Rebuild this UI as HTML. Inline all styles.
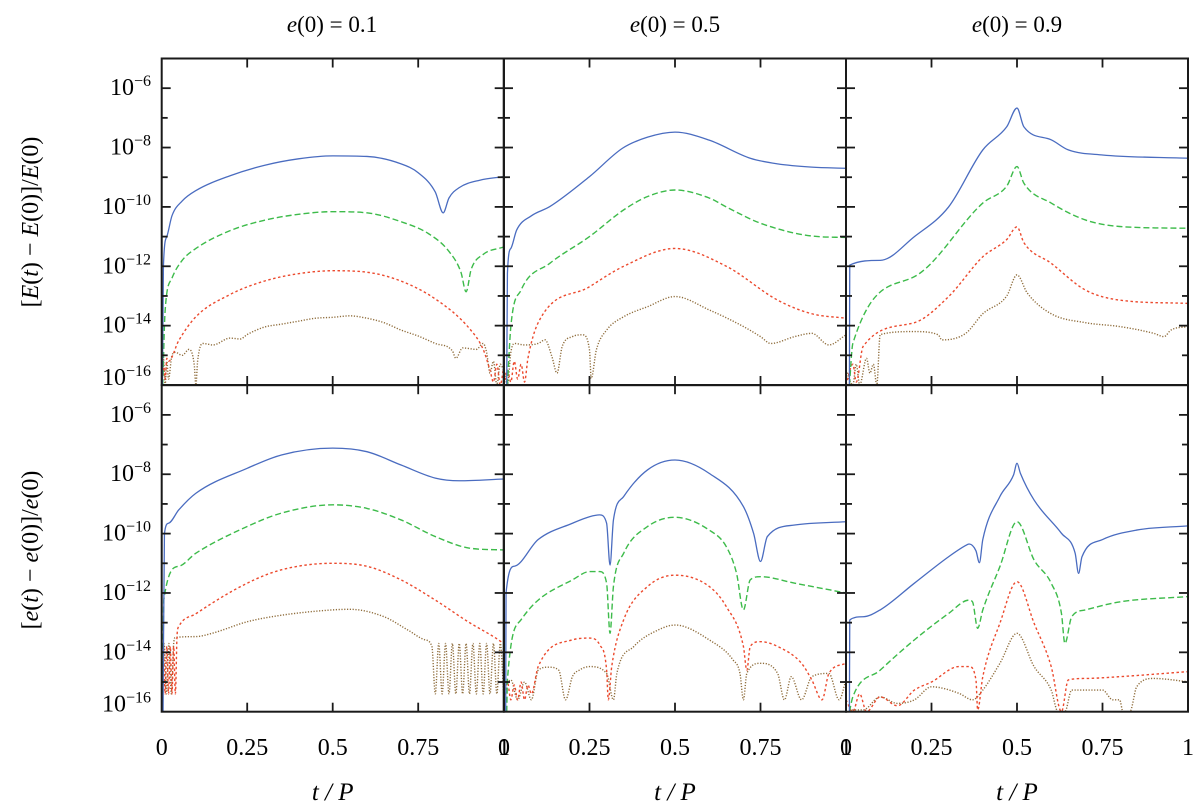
<!DOCTYPE html>
<html><head><meta charset="utf-8"><style>
html,body{margin:0;padding:0;background:#fff}
svg{display:block}
text{font-family:"Liberation Serif",serif;fill:#000}
</style></head><body>
<svg id="chart" width="1200" height="806" viewBox="0 0 1200 806" xmlns="http://www.w3.org/2000/svg">
<g>
<text x="332" y="32" font-size="23" text-anchor="middle"><tspan font-style="italic">e</tspan>(0) = 0.1</text>
<text x="675" y="32" font-size="23" text-anchor="middle"><tspan font-style="italic">e</tspan>(0) = 0.5</text>
<text x="1017" y="32" font-size="23" text-anchor="middle"><tspan font-style="italic">e</tspan>(0) = 0.9</text>
</g>
<text font-size="24" text-anchor="middle" transform="translate(38,222) rotate(-90)">[<tspan font-style="italic">E</tspan>(<tspan font-style="italic">t</tspan>) − <tspan font-style="italic">E</tspan>(0)]/<tspan font-style="italic">E</tspan>(0)</text>
<text font-size="24" text-anchor="middle" transform="translate(38,550) rotate(-90)">[<tspan font-style="italic">e</tspan>(<tspan font-style="italic">t</tspan>) − <tspan font-style="italic">e</tspan>(0)]/<tspan font-style="italic">e</tspan>(0)</text>
<g id="plots"></g>
<g id="axes"></g>
</svg>
<script>
// ---- data (log10 of relative error) ----
// Panel 1: top, e(0)=0.1
const p1BlueT=[0,0.002,0.005,0.015,0.03,0.06,0.1,0.2,0.3,0.4,0.5,0.6,0.7,0.75,0.8,0.823,0.84,0.87,0.93,1];
const p1BlueV=[-16,-16,-12,-11,-10.3,-9.8,-9.45,-8.95,-8.6,-8.38,-8.28,-8.3,-8.55,-8.85,-9.5,-10.2,-9.7,-9.35,-9.1,-8.98];
const p1GreenT=[0.003,0.01,0.03,0.06,0.1,0.2,0.3,0.4,0.5,0.6,0.7,0.78,0.84,0.875,0.89,0.905,0.94,1];
const p1GreenV=[-16,-13.5,-12.4,-11.8,-11.4,-10.8,-10.45,-10.25,-10.16,-10.2,-10.5,-10.9,-11.5,-12.2,-12.86,-12.1,-11.6,-11.35];
const p1RedT=[0,0.005,0.01,0.015,0.02,0.05,0.1,0.2,0.3,0.4,0.5,0.6,0.7,0.8,0.9,0.94,0.96,0.97,0.98,0.99,1];
const p1RedV=[-16,-15.3,-15.8,-15.1,-15.2,-14.5,-13.7,-12.95,-12.5,-12.25,-12.15,-12.2,-12.5,-13.1,-14.1,-14.8,-15.5,-15.9,-15.3,-16,-15.4];
const p1BrownT=[0,0.005,0.01,0.015,0.02,0.03,0.04,0.06,0.08,0.095,0.1,0.105,0.12,0.15,0.2,0.23,0.25,0.3,0.35,0.4,0.45,0.5,0.55,0.6,0.65,0.7,0.75,0.8,0.85,0.86,0.88,0.92,0.94,0.95,0.96,0.97,0.98,0.99,1];
const p1BrownV=[-16,-15.1,-16,-15.2,-15.8,-15.0,-14.9,-15.0,-14.8,-15.3,-16,-15.2,-14.6,-14.65,-14.42,-14.45,-14.3,-14.05,-13.95,-13.85,-13.75,-13.72,-13.67,-13.75,-13.9,-14.15,-14.35,-14.6,-14.85,-15.1,-14.75,-14.8,-14.6,-14.9,-15.6,-15.2,-16,-15.3,-15.5];
// Panel 2: top, e(0)=0.5
const p2BlueT=[0.008,0.01,0.02,0.037,0.08,0.134,0.25,0.347,0.42,0.5,0.6,0.72,0.8,0.9,1];
const p2BlueV=[-16,-12.24,-11.4,-10.78,-10.3,-9.99,-8.98,-8.02,-7.65,-7.48,-7.75,-8.36,-8.55,-8.66,-8.7];
const p2GreenT=[0.01,0.02,0.05,0.134,0.25,0.35,0.42,0.5,0.6,0.65,0.75,0.9,1];
const p2GreenV=[-16,-14.03,-12.8,-11.9,-11.0,-10.1,-9.65,-9.43,-9.7,-10.0,-10.55,-10.98,-11.03];
const p2RedT=[0,0.01,0.02,0.03,0.04,0.05,0.06,0.07,0.1,0.25,0.35,0.5,0.65,0.8,0.9,1];
const p2RedV=[-16,-15.5,-15.9,-15.2,-15.8,-15.3,-15.9,-15.1,-13.9,-12.69,-12.0,-11.4,-12.0,-13.14,-13.6,-13.75];
const p2BrownT=[0,0.01,0.02,0.03,0.06,0.1,0.12,0.14,0.155,0.17,0.2,0.23,0.25,0.255,0.27,0.3,0.35,0.42,0.5,0.6,0.7,0.75,0.78,0.85,0.9,0.95,1];
const p2BrownV=[-15.5,-16,-14.9,-14.6,-14.65,-14.6,-14.48,-15.04,-15.6,-14.71,-14.37,-14.31,-14.82,-15.78,-14.82,-14.15,-13.7,-13.36,-13.02,-13.47,-14.03,-14.37,-14.6,-14.37,-14.26,-14.65,-14.31];
// Panel 3: top, e(0)=0.9
const p3BlueT=[0.01,0.011,0.1,0.2,0.3,0.4,0.47,0.5,0.52,0.6,0.65,0.75,1];
const p3BlueV=[-16,-11.96,-11.8,-11.0,-10.0,-8.08,-7.3,-6.67,-7.3,-7.74,-8.08,-8.25,-8.36];
const p3GreenT=[0.01,0.02,0.2,0.4,0.47,0.5,0.52,0.6,0.7,0.8,1];
const p3GreenV=[-16,-14.6,-12.35,-9.87,-9.3,-8.64,-9.2,-9.87,-10.44,-10.66,-10.72];
const p3RedT=[0,0.02,0.03,0.05,0.2,0.3,0.4,0.47,0.5,0.52,0.6,0.7,0.8,1];
const p3RedV=[-16,-15.3,-15.9,-14.7,-13.9,-13.02,-11.68,-11.1,-10.67,-11.2,-11.9,-12.8,-13.14,-13.25];
const p3BrownT=[0,0.02,0.03,0.04,0.06,0.07,0.08,0.09,0.1,0.2,0.27,0.28,0.35,0.4,0.47,0.5,0.53,0.6,0.7,0.8,0.9,0.93,0.95,1];
const p3BrownV=[-15.5,-16,-15.3,-16,-15.1,-15.6,-15.3,-16,-14.3,-14.2,-14.31,-14.48,-14.26,-13.6,-13.0,-12.29,-12.9,-13.6,-13.9,-14.03,-14.26,-14.37,-14.15,-14.03];
// Panel 4: bottom, e(0)=0.1
const p4BlueT=[0.004,0.008,0.02,0.05,0.1,0.25,0.35,0.5,0.6,0.7,0.8,0.87,1];
const p4BlueV=[-16,-10.0,-9.65,-9.2,-8.64,-7.8,-7.35,-7.12,-7.24,-7.69,-8.13,-8.22,-8.16];
const p4GreenT=[0.003,0.006,0.05,0.1,0.25,0.35,0.5,0.6,0.7,0.8,0.9,1];
const p4GreenV=[-16,-12.24,-11.1,-10.66,-9.76,-9.31,-9.03,-9.15,-9.54,-10.1,-10.49,-10.55];
const p4RedT=[0,0.005,0.01,0.015,0.02,0.025,0.03,0.035,0.04,0.045,0.05,0.1,0.25,0.35,0.5,0.6,0.7,0.8,0.9,0.97,1];
const p4RedV=[-15.4,-13.8,-15.4,-13.8,-15.4,-13.8,-15.4,-13.8,-15.4,-13.4,-13.13,-12.7,-11.67,-11.22,-11.0,-11.1,-11.56,-12.24,-13.0,-13.47,-13.7];
const p4BrownT=[0,0.007,0.014,0.021,0.028,0.035,0.04,0.1,0.15,0.25,0.35,0.5,0.55,0.65,0.72,0.77,0.79,0.8,0.81,0.82,0.83,0.84,0.85,0.86,0.87,0.88,0.89,0.9,0.91,0.92,0.93,0.94,0.95,0.96,0.97,0.98,0.99,1];
const p4BrownV=[-15.4,-13.7,-15.4,-13.7,-15.4,-13.7,-13.5,-13.47,-13.35,-12.97,-12.75,-12.57,-12.55,-12.8,-13.25,-13.58,-13.8,-15.4,-13.7,-15.4,-13.7,-15.4,-13.7,-15.4,-13.7,-15.4,-13.7,-15.4,-13.7,-15.4,-13.7,-15.4,-13.7,-15.4,-13.7,-15.4,-13.7,-15.4];
// Panel 5: bottom, e(0)=0.5
const p5BlueT=[0.005,0.006,0.03,0.1,0.2,0.25,0.28,0.3,0.31,0.32,0.35,0.42,0.5,0.6,0.7,0.73,0.75,0.77,0.85,1];
const p5BlueV=[-16,-12.0,-11.1,-10.2,-9.65,-9.43,-9.37,-9.65,-11.06,-9.54,-8.75,-7.85,-7.52,-7.97,-9.09,-10.0,-10.94,-10.1,-9.71,-9.6];
const p5GreenT=[0.008,0.01,0.05,0.1,0.2,0.25,0.28,0.3,0.31,0.32,0.35,0.42,0.5,0.6,0.65,0.68,0.7,0.72,0.75,0.85,1];
const p5GreenV=[-16,-14.93,-12.9,-12.24,-11.56,-11.28,-11.28,-11.67,-13.36,-11.78,-10.66,-9.76,-9.45,-9.88,-10.44,-11.34,-12.57,-11.56,-11.45,-11.67,-12.0];
const p5RedT=[0,0.01,0.02,0.03,0.04,0.05,0.06,0.07,0.08,0.1,0.2,0.25,0.28,0.3,0.305,0.315,0.35,0.42,0.5,0.6,0.65,0.7,0.71,0.72,0.75,0.8,0.87,0.9,0.93,0.95,1];
const p5RedV=[-15.6,-15.0,-15.6,-15.1,-15.6,-15.0,-15.6,-15.1,-15.4,-14.48,-13.58,-13.52,-13.75,-14.59,-15.6,-14.48,-12.9,-11.78,-11.4,-11.78,-12.46,-13.8,-14.6,-13.8,-13.64,-13.8,-14.37,-14.93,-15.6,-14.71,-14.37];
const p5BrownT=[0,0.02,0.04,0.06,0.08,0.1,0.13,0.16,0.18,0.2,0.22,0.25,0.3,0.32,0.33,0.38,0.45,0.5,0.6,0.67,0.69,0.7,0.71,0.75,0.8,0.82,0.84,0.87,0.9,0.95,0.98,1];
const p5BrownV=[-15.2,-14.93,-15.6,-15.0,-15.6,-14.6,-14.5,-14.6,-15.6,-14.82,-14.6,-14.48,-14.71,-15.6,-14.71,-13.8,-13.25,-13.08,-13.58,-14.26,-14.71,-15.6,-14.71,-14.37,-14.71,-15.6,-14.82,-15.6,-14.82,-14.71,-15.6,-14.93];
// Panel 6: bottom, e(0)=0.9
const p6BlueT=[0.01,0.011,0.05,0.1,0.2,0.3,0.35,0.36,0.38,0.39,0.4,0.45,0.49,0.5,0.51,0.55,0.63,0.67,0.68,0.69,0.75,0.85,1];
const p6BlueV=[-16,-12.91,-12.8,-12.57,-11.67,-10.78,-10.4,-10.35,-10.58,-10.98,-10.2,-8.75,-8.02,-7.63,-7.97,-8.87,-9.99,-10.66,-11.34,-10.78,-10.2,-9.88,-9.74];
const p6GreenT=[0.01,0.02,0.1,0.2,0.3,0.36,0.37,0.385,0.4,0.45,0.5,0.55,0.6,0.63,0.64,0.66,0.7,0.8,1];
const p6GreenV=[-16,-15.5,-14.6,-13.58,-12.69,-12.24,-12.3,-13.19,-12.57,-11.11,-9.6,-10.89,-11.67,-12.69,-13.7,-12.8,-12.57,-12.3,-12.12];
const p6RedT=[0,0.02,0.04,0.06,0.1,0.15,0.2,0.25,0.33,0.36,0.38,0.385,0.4,0.45,0.5,0.55,0.6,0.63,0.65,0.7,0.8,1];
const p6RedV=[-15.6,-16,-15.4,-16,-15.5,-15.8,-15.27,-15.0,-14.48,-14.48,-14.93,-15.94,-14.82,-13.02,-11.62,-13.02,-14.48,-16,-14.93,-14.88,-14.82,-14.65];
const p6BrownT=[0.01,0.05,0.1,0.15,0.2,0.25,0.33,0.37,0.4,0.45,0.5,0.55,0.6,0.62,0.64,0.66,0.75,0.78,0.8,0.81,0.83,0.85,0.9,1];
const p6BrownV=[-15.94,-15.94,-15.5,-15.72,-15.6,-15.16,-15.38,-15.6,-15.27,-14.37,-13.36,-14.48,-15.27,-16,-16,-15.27,-15.27,-15.6,-15.6,-16,-16,-15.16,-14.88,-14.99];

const xTickLabels=["0","0.25","0.5","0.75"];
const xTickValues=[0,0.25,0.5,0.75];
const yTickExps=[-6,-8,-10,-12,-14,-16];
const yMin=-16, yMax=-5;

// ---- geometry ----
const NS="http://www.w3.org/2000/svg";
const colX=[161.7,504,846], panelW=342;
const rowBottom=[385,711.7], panelH=326.5;
const decade=panelH/(yMax-yMin);
function xScale(c,t){return colX[c]+t*panelW;}
function yScale(r,L){return rowBottom[r]-(Math.max(yMin,Math.min(yMax,L))-yMin)*decade;}
function mk(tag,attrs,parent){const e=document.createElementNS(NS,tag);for(const k in attrs)e.setAttribute(k,attrs[k]);parent.appendChild(e);return e;}

// monotone cubic path (Fritsch-Carlson)
function monoPath(xs,ys){
  const n=xs.length;
  if(n<2)return "";
  const dx=[],m=[],d=[];
  for(let i=0;i<n-1;i++){dx[i]=xs[i+1]-xs[i];d[i]=dx[i]===0?0:(ys[i+1]-ys[i])/dx[i];}
  m[0]=d[0];m[n-1]=d[n-2];
  for(let i=1;i<n-1;i++){m[i]=(d[i-1]*d[i]<=0)?0:(d[i-1]+d[i])/2;}
  for(let i=0;i<n-1;i++){
    if(d[i]===0){m[i]=0;m[i+1]=0;continue;}
    const a=m[i]/d[i],b=m[i+1]/d[i],s=a*a+b*b;
    if(s>9){const t=3/Math.sqrt(s);m[i]=t*a*d[i];m[i+1]=t*b*d[i];}
  }
  let p="M"+xs[0].toFixed(2)+","+ys[0].toFixed(2);
  for(let i=0;i<n-1;i++){
    const h=dx[i]/3;
    p+="C"+(xs[i]+h).toFixed(2)+","+(ys[i]+m[i]*h).toFixed(2)+" "+(xs[i+1]-h).toFixed(2)+","+(ys[i+1]-m[i+1]*h).toFixed(2)+" "+xs[i+1].toFixed(2)+","+ys[i+1].toFixed(2);
  }
  return p;
}

const styles={
  blue:{stroke:"#4a6cc0",dash:""},
  green:{stroke:"#3dbb4a",dash:"6,3"},
  red:{stroke:"#ec4a2e",dash:"2.5,2.5"},
  brown:{stroke:"#8f6d3c",dash:"1.2,1.6"}
};
const panelSeries=[
 {r:0,c:0,s:[["brown",p1BrownT,p1BrownV],["red",p1RedT,p1RedV],["green",p1GreenT,p1GreenV],["blue",p1BlueT,p1BlueV]]},
 {r:0,c:1,s:[["brown",p2BrownT,p2BrownV],["red",p2RedT,p2RedV],["green",p2GreenT,p2GreenV],["blue",p2BlueT,p2BlueV]]},
 {r:0,c:2,s:[["brown",p3BrownT,p3BrownV],["red",p3RedT,p3RedV],["green",p3GreenT,p3GreenV],["blue",p3BlueT,p3BlueV]]},
 {r:1,c:0,s:[["brown",p4BrownT,p4BrownV],["red",p4RedT,p4RedV],["green",p4GreenT,p4GreenV],["blue",p4BlueT,p4BlueV]]},
 {r:1,c:1,s:[["brown",p5BrownT,p5BrownV],["red",p5RedT,p5RedV],["green",p5GreenT,p5GreenV],["blue",p5BlueT,p5BlueV]]},
 {r:1,c:2,s:[["brown",p6BrownT,p6BrownV],["red",p6RedT,p6RedV],["green",p6GreenT,p6GreenV],["blue",p6BlueT,p6BlueV]]}
];
const plots=document.getElementById("plots");
const defs=mk("defs",{},plots);
panelSeries.forEach((p,i)=>{
  const cp=mk("clipPath",{id:"clip"+i},defs);
  mk("rect",{x:colX[p.c],y:rowBottom[p.r]-panelH,width:panelW,height:panelH},cp);
  const g=mk("g",{"clip-path":"url(#clip"+i+")"},plots);
  
  
  p.s.forEach(([name,T,V])=>{
    const xs=T.map(t=>xScale(p.c,t)), ys=V.map(v=>yScale(p.r,v));
    const st=styles[name];
    const path=mk("path",{d:monoPath(xs,ys),fill:"none",stroke:st.stroke,"stroke-width":name==="blue"?1.3:1.4,"stroke-dasharray":st.dash,"stroke-linejoin":"round"},g);
    
    
  });
});

// ---- axes ----
const axes=document.getElementById("axes");
for(let r=0;r<2;r++)for(let c=0;c<3;c++){
  const x0=colX[c], yb=rowBottom[r], yt=yb-panelH;
  const fr=mk("rect",{x:x0,y:yt,width:panelW,height:panelH,fill:"none",stroke:"#1a1a1a","stroke-width":2},axes);
  
  
  xTickValues.forEach(v=>{
    if(v===0)return;
    const x=xScale(c,v);
    mk("line",{x1:x,x2:x,y1:yb,y2:yb-9,stroke:"#1a1a1a","stroke-width":1.8},axes);
    mk("line",{x1:x,x2:x,y1:yt,y2:yt+9,stroke:"#1a1a1a","stroke-width":1.8},axes);
  });
  for(let e=-15;e<=-6;e++){
    const y=yScale(r,e), len=(e%2===0)?9:6;
    mk("line",{x1:x0,x2:x0+len,y1:y,y2:y,stroke:"#1a1a1a","stroke-width":1.8},axes);
    mk("line",{x1:x0+panelW,x2:x0+panelW-len,y1:y,y2:y,stroke:"#1a1a1a","stroke-width":1.8},axes);
  }
}
for(let r=0;r<2;r++){
  yTickExps.forEach(e=>{
    const y=yScale(r,e)+(e===-16?0:7);
    const t=mk("text",{x:151,y:y,"font-size":24,"text-anchor":"end"},axes);
    
    
    t.appendChild(document.createTextNode("10"));
    const s=mk("tspan",{"font-size":16,dy:-9},t);
    s.textContent="−"+Math.abs(e);
  });
}
for(let c=0;c<3;c++){
  xTickLabels.forEach((lab,k)=>{
    const t=mk("text",{x:xScale(c,xTickValues[k]),y:755,"font-size":24,"text-anchor":"middle"},axes);
    
    
    t.textContent=lab;
  });
  if(c>0){
    const t=mk("text",{x:colX[c],y:755,"font-size":24,"text-anchor":"middle"},axes);
    
    
    t.textContent="1";
  }
  const xl=mk("text",{x:xScale(c,0.5),y:800,"font-size":25,"text-anchor":"middle","font-style":"italic"},axes);
  
  
  xl.textContent="t / P";
}
const last=mk("text",{x:colX[2]+panelW,y:755,"font-size":24,"text-anchor":"middle"},axes);


last.textContent="1";
</script>
</body></html>
